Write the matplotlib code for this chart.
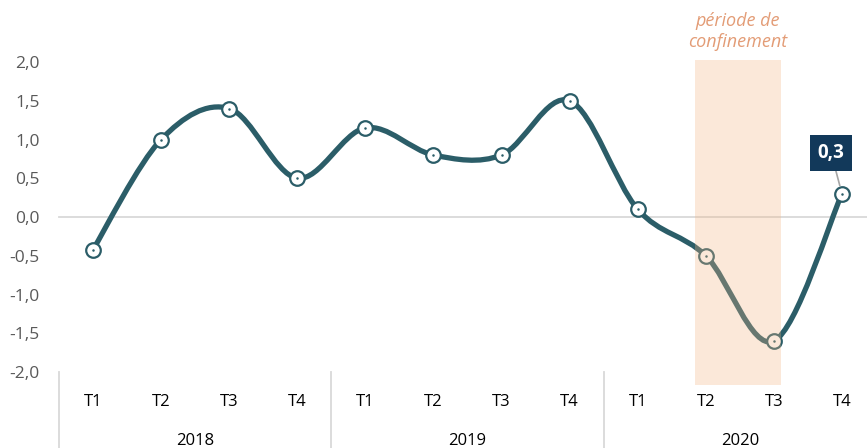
import numpy as np
import matplotlib
matplotlib.use("Agg")
import matplotlib.pyplot as plt
from matplotlib.path import Path
from matplotlib.patches import PathPatch

plt.rcParams['font.family'] = ['Open Sans', 'DejaVu Sans']

# ── data ──────────────────────────────────────────────────────────────────
quarters = ["T1", "T2", "T3", "T4"] * 3
years = ["2018", "2019", "2020"]
values = [-0.42, 1.0, 1.4, 0.5, 1.15, 0.8, 0.8, 1.5, 0.1, -0.5, -1.6, 0.3]
ytick_vals = [-2.0, -1.5, -1.0, -0.5, 0.0, 0.5, 1.0, 1.5, 2.0]

LINE = "#2B5D68"
GREY_TXT = "#595959"

W, H = 867, 448
fig = plt.figure(figsize=(W / 100, H / 100), dpi=100)
ax = fig.add_axes([59 / W, 76 / H, (876 - 59) / W, 310 / H])
ax.set_xlim(-0.5, 11.5)
ax.set_ylim(-2.0, 2.0)
for s in ax.spines.values():
    s.set_visible(False)

# y ticks
ax.set_yticks(ytick_vals)
ax.set_yticklabels([f"{v:.1f}".replace(".", ",") for v in ytick_vals],
                   color=GREY_TXT, fontsize=12.5)
ax.tick_params(axis="y", length=0, pad=14)
ax.set_xticks([])

# zero line
ax.axhline(0, color="#D9D9D9", lw=1.3, zorder=1, clip_on=False)

# smoothed line (Excel-style bezier)
x = np.arange(len(values))
pts = np.column_stack([x, values])
verts = [tuple(pts[0])]
codes = [Path.MOVETO]
n = len(pts)
for i in range(n - 1):
    p0 = pts[max(i - 1, 0)]
    p1 = pts[i]
    p2 = pts[i + 1]
    p3 = pts[min(i + 2, n - 1)]
    c1 = p1 + (p2 - p0) / 6
    c2 = p2 - (p3 - p1) / 6
    verts += [tuple(c1), tuple(c2), tuple(p2)]
    codes += [Path.CURVE4] * 3
ax.add_patch(PathPatch(Path(verts, codes), fill=False, edgecolor=LINE,
                       lw=3.8, capstyle="round", zorder=3))
ax.plot(x, values, linestyle="none", marker="o", markersize=10.5,
        markerfacecolor="white", markeredgecolor=LINE, markeredgewidth=1.6,
        zorder=4, clip_on=False)
ax.plot(x, values, linestyle="none", marker="o", markersize=0.8,
        color=LINE, zorder=4.5)

# confinement shading (drawn over the line)
ax.fill_between([8.84, 10.1], -2.17, 2.03, color="#F2B684", alpha=0.3,
                lw=0, zorder=5, clip_on=False)
ax.text(9.47, 2.39, "période de\nconfinement", ha="center", va="center",
        style="italic", color="#E39C76", fontsize=13, linespacing=1.2)

# value label for last point
ax.annotate("0,3", xy=(x[-1], values[-1]), xytext=(10.84, 0.83),
            ha="center", va="center", color="white", fontsize=13.5,
            fontweight="bold", zorder=6,
            bbox=dict(boxstyle="square,pad=0.42", fc="#12395A", ec="none"),
            arrowprops=dict(arrowstyle="-", color="#A6A6A6", lw=1.2,
                            shrinkA=0, shrinkB=6))

# category axis
trans = ax.get_xaxis_transform()
for i, q in enumerate(quarters):
    ax.text(i, -0.097, q, transform=trans,
            ha="center", va="center", color="black", fontsize=12)
for j, yr in enumerate(years):
    ax.text(4 * j + 1.5, -0.222, yr, transform=trans, ha="center",
            va="center", color="black", fontsize=12)
for b in [-0.5, 3.5, 7.5, 11.5]:
    ax.plot([b, b], [0, -0.27], transform=trans, color="#D9D9D9", lw=1.3,
            clip_on=False)

fig.savefig("out.png", dpi=100)
